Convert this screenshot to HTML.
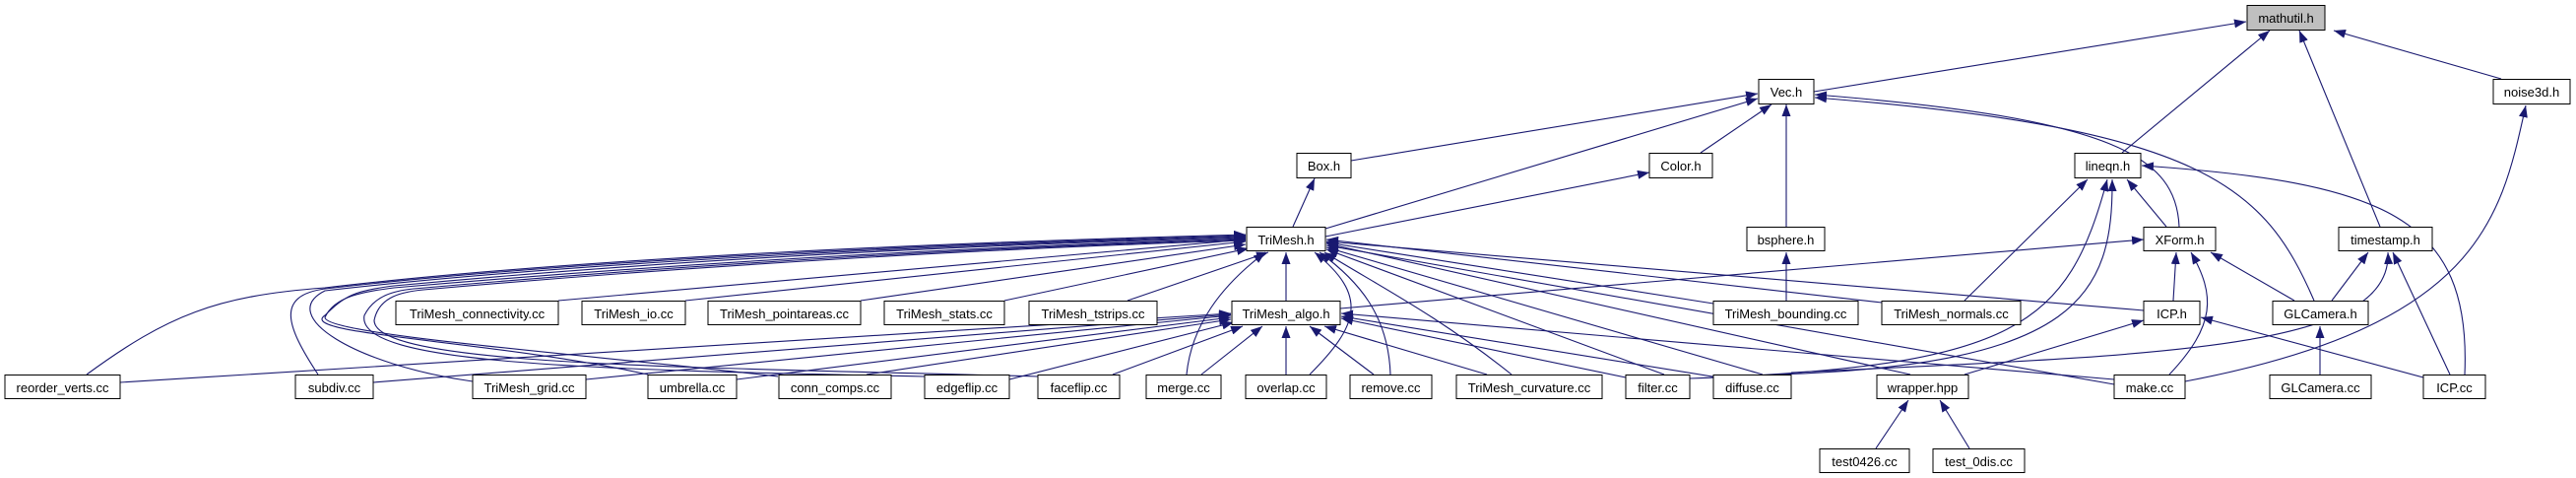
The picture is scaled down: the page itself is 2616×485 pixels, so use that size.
<!DOCTYPE html>
<html><head><meta charset="utf-8"><style>
html,body{margin:0;padding:0;background:#fff}
svg{display:block}
text{font-family:"Liberation Sans",sans-serif;font-size:13px;fill:#000}
.e{fill:none;stroke:#191970;stroke-width:1.1}
rect{fill:#fff;stroke:#000;stroke-width:1}
</style></head><body>
<svg width="2616" height="485" viewBox="0 0 2616 485" xmlns="http://www.w3.org/2000/svg">
<defs><marker id="a" markerWidth="12" markerHeight="9" refX="12" refY="4.5" orient="auto" markerUnits="userSpaceOnUse"><path d="M0,0 L12,4.5 L0,9 z" fill="#191970"/></marker></defs>
<g marker-end="url(#a)">
<path class="e" d="M1842,93 L2281,22"/>
<path class="e" d="M2155,155 L2305,31"/>
<path class="e" d="M2417,230 L2335,31"/>
<path class="e" d="M2540,80 L2370,31"/>
<path class="e" d="M1372,163 L1785,95"/>
<path class="e" d="M1346,232 L1785,100"/>
<path class="e" d="M1727,155 L1799,106"/>
<path class="e" d="M1814,230 L1814,106"/>
<path class="e" d="M2213,230 C2210,160 2150,120 1843,96"/>
<path class="e" d="M2350,305 C2300,190 2240,130 1843,99"/>
<path class="e" d="M1313,230 L1335,181"/>
<path class="e" d="M1346,240 L1675,175"/>
<path class="e" d="M1814,305 L1814,256"/>
<path class="e" d="M1995,305 L2120,182"/>
<path class="e" d="M2200,230 L2160,182"/>
<path class="e" d="M1716,384 C2050,372 2100,330 2140,182"/>
<path class="e" d="M1805,380 C2110,370 2146,300 2145,182"/>
<path class="e" d="M2503,380 C2510,220 2420,185 2175,168"/>
<path class="e" d="M1361,313 L2177,243"/>
<path class="e" d="M2207,305 L2210,256"/>
<path class="e" d="M2330,305 L2245,256"/>
<path class="e" d="M2203,380 C2250,330 2250,300 2225,256"/>
<path class="e" d="M2368,305 L2405,256"/>
<path class="e" d="M2488,380 L2430,256"/>
<path class="e" d="M1819,378 C2200,360 2430,355 2425,256"/>
<path class="e" d="M2219,387 C2520,330 2540,220 2565,107"/>
<path class="e" d="M2356,380 L2356,331"/>
<path class="e" d="M2461,383 L2235,322"/>
<path class="e" d="M1995,380 L2177,325"/>
<path class="e" d="M2177,315 L1347,245"/>
<path class="e" d="M1905,455 L1938,406"/>
<path class="e" d="M2000,455 L1970,406"/>
<!-- to TriMesh.h -->
<path class="e" d="M567,305 L1265,243"/>
<path class="e" d="M696,305 L1265,245"/>
<path class="e" d="M874,305 L1265,248"/>
<path class="e" d="M1020,305 L1268,252"/>
<path class="e" d="M1145,305 L1288,256"/>
<path class="e" d="M1306,305 L1306,256"/>
<path class="e" d="M1740,308 L1347,246"/>
<path class="e" d="M1911,307 L1347,243"/>
<path class="e" d="M88,380 C170,320 220,300 330,292 C600,260 1000,245 1265,238"/>
<path class="e" d="M323,380 C290,330 280,300 330,293 C600,262 1000,246 1265,239"/>
<path class="e" d="M480,387 C360,370 280,320 330,295 C600,264 1000,247 1265,240"/>
<path class="e" d="M658,380 C500,345 300,340 330,320 C350,300 360,295 400,290 C700,262 1000,248 1265,241"/>
<path class="e" d="M790,382 C600,360 330,340 330,322 C340,300 370,296 400,292 C700,266 1000,250 1265,242"/>
<path class="e" d="M939,382 C600,375 360,370 370,320 C380,300 400,295 420,293 C700,268 1000,251 1265,243"/>
<path class="e" d="M1054,382 C700,372 380,372 380,325 C385,300 410,296 430,294 C700,270 1000,252 1265,244"/>
<path class="e" d="M1205,380 C1210,330 1240,290 1285,256"/>
<path class="e" d="M1330,380 C1380,330 1390,300 1335,256"/>
<path class="e" d="M1412,380 C1410,320 1380,285 1340,256"/>
<path class="e" d="M1535,380 C1460,320 1400,290 1345,256"/>
<path class="e" d="M1690,380 L1347,253"/>
<path class="e" d="M1790,380 L1347,251"/>
<path class="e" d="M2147,390 L1347,249"/>
<path class="e" d="M1940,380 L1347,247"/>
<!-- to TriMesh_algo.h -->
<path class="e" d="M122,388 L1250,318"/>
<path class="e" d="M379,388 L1250,319"/>
<path class="e" d="M595,385 L1250,320"/>
<path class="e" d="M748,385 L1250,322"/>
<path class="e" d="M880,380 L1250,324"/>
<path class="e" d="M1025,385 L1253,327"/>
<path class="e" d="M1130,380 L1262,331"/>
<path class="e" d="M1220,380 L1282,331"/>
<path class="e" d="M1306,380 L1306,331"/>
<path class="e" d="M1395,380 L1330,331"/>
<path class="e" d="M1510,380 L1345,331"/>
<path class="e" d="M1651,383 L1362,323"/>
<path class="e" d="M1745,383 L1362,321"/>
<path class="e" d="M2147,385 L1362,318"/>
</g>
<g>
<rect x="2282" y="5.5" width="79" height="25" style="fill:#bfbfbf"/><text x="2321.5" y="23" text-anchor="middle">mathutil.h</text>
<rect x="1786" y="80.5" width="56" height="25"/><text x="1814" y="98" text-anchor="middle">Vec.h</text>
<rect x="2532" y="80.5" width="78" height="25"/><text x="2571" y="98" text-anchor="middle">noise3d.h</text>
<rect x="1317" y="155.5" width="55" height="25"/><text x="1344.5" y="173" text-anchor="middle">Box.h</text>
<rect x="1675" y="155.5" width="64" height="25"/><text x="1707" y="173" text-anchor="middle">Color.h</text>
<rect x="2107" y="155.5" width="67" height="25"/><text x="2140.5" y="173" text-anchor="middle">lineqn.h</text>
<rect x="1266" y="230.5" width="80" height="24"/><text x="1306" y="248" text-anchor="middle">TriMesh.h</text>
<rect x="1774" y="230.5" width="79" height="24"/><text x="1813.5" y="248" text-anchor="middle">bsphere.h</text>
<rect x="2177" y="230.5" width="73" height="24"/><text x="2213.5" y="248" text-anchor="middle">XForm.h</text>
<rect x="2375" y="230.5" width="95" height="24"/><text x="2422.5" y="248" text-anchor="middle">timestamp.h</text>
<rect x="402" y="305.5" width="165" height="24"/><text x="484.5" y="323" text-anchor="middle">TriMesh_connectivity.cc</text>
<rect x="591" y="305.5" width="105" height="24"/><text x="643.5" y="323" text-anchor="middle">TriMesh_io.cc</text>
<rect x="719" y="305.5" width="155" height="24"/><text x="796.5" y="323" text-anchor="middle">TriMesh_pointareas.cc</text>
<rect x="898" y="305.5" width="122" height="24"/><text x="959" y="323" text-anchor="middle">TriMesh_stats.cc</text>
<rect x="1045" y="305.5" width="130" height="24"/><text x="1110" y="323" text-anchor="middle">TriMesh_tstrips.cc</text>
<rect x="1251" y="305.5" width="110" height="24"/><text x="1306" y="323" text-anchor="middle">TriMesh_algo.h</text>
<rect x="1740" y="305.5" width="147" height="24"/><text x="1813.5" y="323" text-anchor="middle">TriMesh_bounding.cc</text>
<rect x="1911" y="305.5" width="141" height="24"/><text x="1981.5" y="323" text-anchor="middle">TriMesh_normals.cc</text>
<rect x="2177" y="305.5" width="57" height="24"/><text x="2205.5" y="323" text-anchor="middle">ICP.h</text>
<rect x="2308" y="305.5" width="97" height="24"/><text x="2356.5" y="323" text-anchor="middle">GLCamera.h</text>
<rect x="5" y="380.5" width="117" height="24"/><text x="63.5" y="398" text-anchor="middle">reorder_verts.cc</text>
<rect x="300" y="380.5" width="79" height="24"/><text x="339.5" y="398" text-anchor="middle">subdiv.cc</text>
<rect x="480" y="380.5" width="115" height="24"/><text x="537.5" y="398" text-anchor="middle">TriMesh_grid.cc</text>
<rect x="658" y="380.5" width="90" height="24"/><text x="703" y="398" text-anchor="middle">umbrella.cc</text>
<rect x="791" y="380.5" width="114" height="24"/><text x="848" y="398" text-anchor="middle">conn_comps.cc</text>
<rect x="939" y="380.5" width="86" height="24"/><text x="982" y="398" text-anchor="middle">edgeflip.cc</text>
<rect x="1054" y="380.5" width="83" height="24"/><text x="1095.5" y="398" text-anchor="middle">faceflip.cc</text>
<rect x="1164" y="380.5" width="76" height="24"/><text x="1202" y="398" text-anchor="middle">merge.cc</text>
<rect x="1265" y="380.5" width="82" height="24"/><text x="1306" y="398" text-anchor="middle">overlap.cc</text>
<rect x="1371" y="380.5" width="83" height="24"/><text x="1412.5" y="398" text-anchor="middle">remove.cc</text>
<rect x="1479" y="380.5" width="148" height="24"/><text x="1553" y="398" text-anchor="middle">TriMesh_curvature.cc</text>
<rect x="1651" y="380.5" width="65" height="24"/><text x="1683.5" y="398" text-anchor="middle">filter.cc</text>
<rect x="1740" y="380.5" width="79" height="24"/><text x="1779.5" y="398" text-anchor="middle">diffuse.cc</text>
<rect x="1906" y="380.5" width="93" height="24"/><text x="1952.5" y="398" text-anchor="middle">wrapper.hpp</text>
<rect x="2147" y="380.5" width="72" height="24"/><text x="2183" y="398" text-anchor="middle">make.cc</text>
<rect x="2305" y="380.5" width="103" height="24"/><text x="2356.5" y="398" text-anchor="middle">GLCamera.cc</text>
<rect x="2461" y="380.5" width="63" height="24"/><text x="2492.5" y="398" text-anchor="middle">ICP.cc</text>
<rect x="1848" y="455.5" width="91" height="24"/><text x="1893.5" y="473" text-anchor="middle">test0426.cc</text>
<rect x="1963" y="455.5" width="93" height="24"/><text x="2009.5" y="473" text-anchor="middle">test_0dis.cc</text>
</g>
</svg>
</body></html>
